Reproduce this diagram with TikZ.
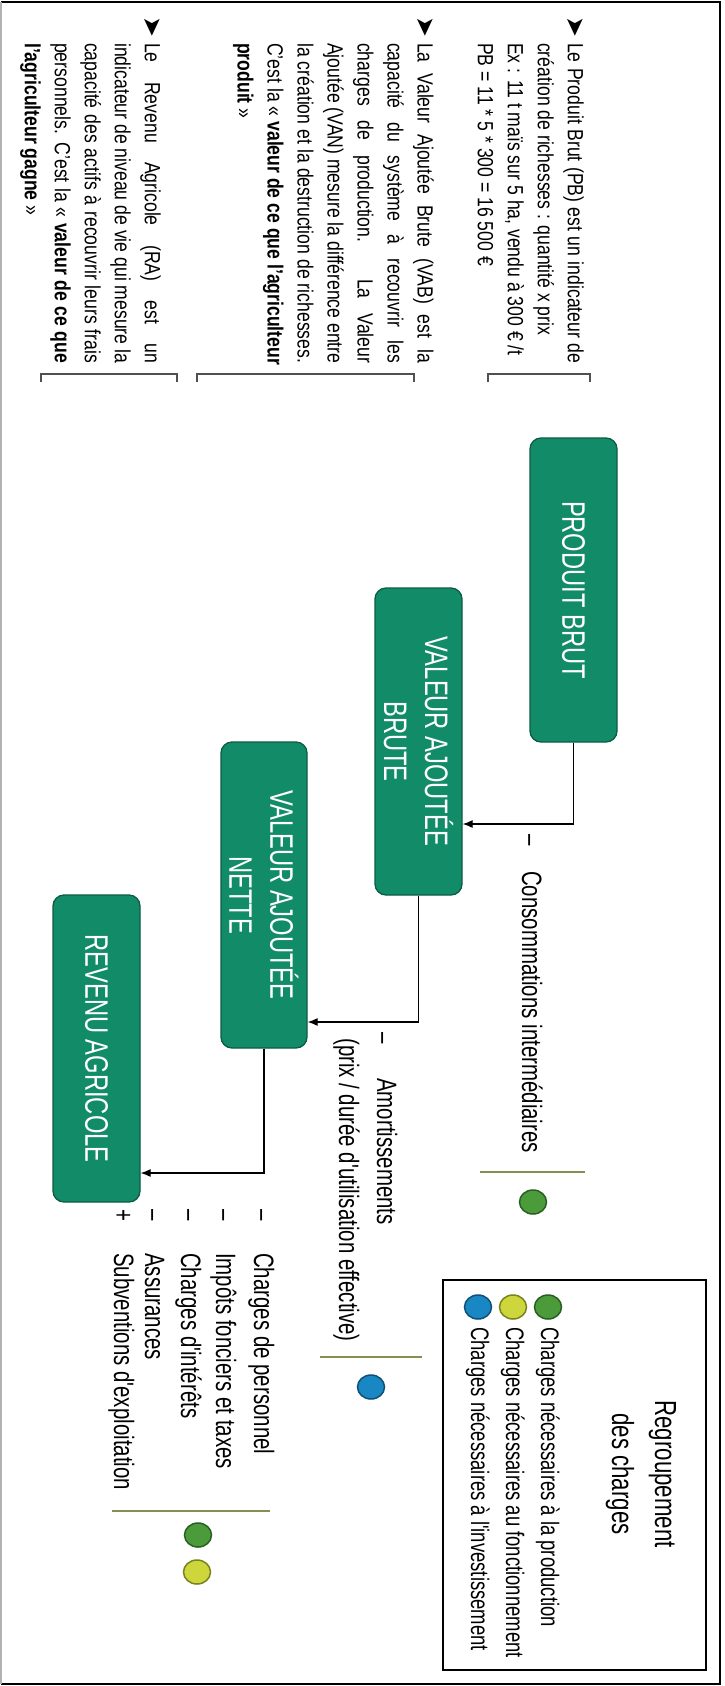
\documentclass[tikz,border=0pt]{standalone}
\usepackage{fontspec}
\setmainfont[FakeStretch=0.8]{Liberation Sans}
\newfontfamily\nrw[FakeStretch=0.73]{Liberation Sans}
\newfontfamily\dejavu{DejaVu Sans}
\usetikzlibrary{arrows.meta,shapes.geometric}
\definecolor{boxgreen}{RGB}{18,140,104}
\definecolor{boxdark}{RGB}{12,92,68}
\definecolor{olvline}{RGB}{130,145,80}
\definecolor{dgreen}{RGB}{76,155,58}
\definecolor{dgreenb}{RGB}{40,95,35}
\definecolor{dyellow}{RGB}{205,215,60}
\definecolor{dyellowb}{RGB}{120,130,30}
\definecolor{dblue}{RGB}{25,135,195}
\definecolor{dblueb}{RGB}{15,80,120}
\definecolor{brkgray}{RGB}{80,80,80}
\newcommand{\mybullet}{{\dejavu\fontsize{25}{25}\selectfont ➤}}
\newcommand{\jline}[1]{\makebox[320pt][s]{\spaceskip=\fontdimen2\font plus 1fil\relax #1}}
\begin{document}
\begin{tikzpicture}[x=1pt,y=-1pt,
  gbox/.style={rectangle, rounded corners=11pt, fill=boxgreen, draw=boxdark, line width=1.3pt, text=white, align=center, rotate=-90, inner sep=0pt, font=\nrw\fontsize{32.5}{41}\selectfont},
  conn/.style={line width=1.1pt, -{Latex[length=10pt,width=8pt]}},
  lbl/.style={rotate=-90, anchor=base west, inner sep=0pt, font=\nrw\fontsize{28}{32}\selectfont},
  para/.style={rotate=-90, anchor=north west, inner sep=0pt, align=left, font=\fontsize{22}{30}\selectfont},
  cdot/.style={ellipse, minimum width=27pt, minimum height=24pt, inner sep=0pt, line width=1.5pt},
  olv/.style={draw=olvline, line width=1.2pt},
  brk/.style={draw=brkgray, line width=1.5pt},
  leg/.style={rotate=-90, anchor=base west, inner sep=0pt, font=\nrw\fontsize{25.3}{28}\selectfont},
  ttl/.style={rotate=-90, anchor=base, inner sep=0pt, font=\nrw\fontsize{30.5}{34}\selectfont}
]
\useasboundingbox (0,0) rectangle (724,1686);
\fill[white] (0,0) rectangle (724,1686);
% outer frame
\draw[line width=2.5pt] (1,2) -- (720,2) -- (720,1684) -- (1,1684);
\draw[gray!60, line width=1.5pt] (1,2) -- (1,1684);

% explanation paragraphs
\node[para] (tpb) at (584,43) {\llap{\mybullet\hspace{6pt}}\jline{Le Produit Brut (PB) est un indicateur de}\\
création de richesses : quantité x prix\\
Ex : 11 t maïs sur 5 ha, vendu à 300 € /t\\
PB = 11 * 5 * 300 = 16 500 €};

\node[para] (tvab) at (434,43) {\llap{\mybullet\hspace{6pt}}\jline{La Valeur Ajoutée Brute (VAB) est la}\\
\jline{capacité du système à recouvrir les}\\
\jline{charges de production. La Valeur}\\
\jline{Ajoutée (VAN) mesure la différence entre}\\
\jline{la création et la destruction de richesses.}\\
\jline{C'est la « \textbf{valeur de ce que l'agriculteur}}\\
\textbf{produit} »};

\node[para] (tra) at (161,43) {\llap{\mybullet\hspace{6pt}}\jline{Le Revenu Agricole (RA) est un}\\
\jline{indicateur de niveau de vie qui mesure la}\\
\jline{capacité des actifs à recouvrir leurs frais}\\
\jline{personnels. C'est la « \textbf{valeur de ce que}}\\
\textbf{l'agriculteur gagne} »};

% brackets
\draw[brk] (488,382) -- (488,374) -- (590,374) -- (590,382);
\draw[brk] (197,382) -- (197,374) -- (414,374) -- (414,382);
\draw[brk] (41,382) -- (41,374) -- (177,374) -- (177,382);

% boxes
\node[gbox, minimum width=304pt, minimum height=87pt] (pb) at (573.5,590) {PRODUIT BRUT};
\node[gbox, minimum width=307pt, minimum height=87pt] (vab) at (418.5,741.5) {VALEUR AJOUTÉE\\BRUTE};
\node[gbox, minimum width=306pt, minimum height=86pt] (van) at (264,895) {VALEUR AJOUTÉE\\NETTE};
\node[gbox, minimum width=307pt, minimum height=87pt] (ra) at (96.5,1048.5) {REVENU AGRICOLE};

% connectors
\coordinate (k1) at (0,824);
\coordinate (k2) at (0,1022);
\coordinate (k3) at (0,1173);
\draw[conn] (pb.east) |- (vab.north |- k1);
\draw[conn] (vab.east) |- (van.north |- k2);
\draw[conn] (van.east) |- (ra.north |- k3);

% charge labels
\node[lbl] (m1) at (522,834) {–};
\node[lbl] (ci) at (522,871) {Consommations intermédiaires};
\node[lbl] (m2) at (375,1032) {–};
\node[lbl] (am) at (377,1078) {Amortissements};
\node[lbl] (am2) at (339,1038) {(prix / durée d'utilisation effective)};

\node[lbl] (s1) at (254,1209) {–};
\node[lbl] (s2) at (216,1209) {–};
\node[lbl] (s3) at (181,1209) {–};
\node[lbl] (s4) at (145,1209) {–};
\node[lbl] (s5) at (114,1209) {+};
\node[lbl] (c1) at (254,1253) {Charges de personnel};
\node[lbl] (c2) at (216,1253) {Impôts fonciers et taxes};
\node[lbl] (c3) at (181,1253) {Charges d'intérêts};
\node[lbl] (c4) at (145,1253) {Assurances};
\node[lbl] (c5) at (114,1253) {Subventions d'exploitation};

% separators and dots
\draw[olv] (480,1172) -- (585,1172);
\draw[olv] (320,1357) -- (422,1357);
\draw[olv] (112,1511) -- (270,1511);
\node[cdot, fill=dgreen, draw=dgreenb] (g1) at (533,1202) {};
\node[cdot, fill=dblue, draw=dblueb] (b1) at (371,1387) {};
\node[cdot, fill=dgreen, draw=dgreenb] (g2) at (198,1535) {};
\node[cdot, fill=dyellow, draw=dyellowb] (y2) at (197,1572) {};

% legend
\draw[line width=2pt] (443,1280) rectangle (706,1670);
\node[ttl] (t1) at (655,1474) {Regroupement};
\node[ttl] (t2) at (612,1474) {des charges};
\node[cdot, fill=dgreen, draw=dgreenb] (lg) at (548,1307) {};
\node[cdot, fill=dyellow, draw=dyellowb] (ly) at (513,1307) {};
\node[cdot, fill=dblue, draw=dblueb] (lb) at (478,1307) {};
\node[leg] (l1) at (541,1327) {Charges nécessaires à la production};
\node[leg] (l2) at (506,1327) {Charges nécessaires au fonctionnement};
\node[leg] (l3) at (471,1327) {Charges nécessaires à l'investissement};
\end{tikzpicture}
\end{document}
